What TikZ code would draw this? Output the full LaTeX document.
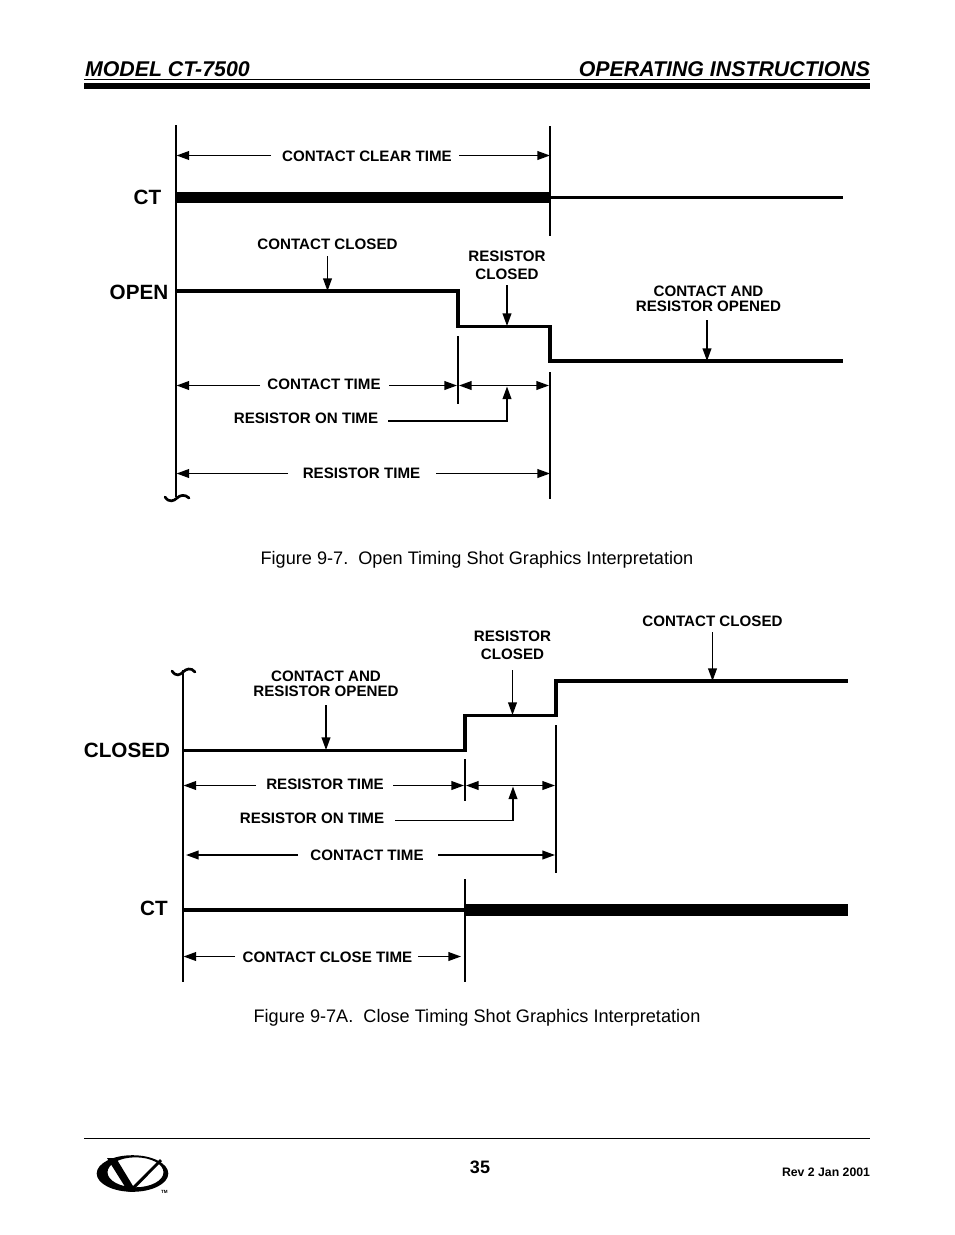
\documentclass[tikz,border=0pt]{standalone}
\usepackage{fontspec}
\setmainfont{Liberation Sans}
\usetikzlibrary{arrows.meta}
\tikzset{
  every node/.style={inner sep=0pt,outer sep=0pt,text=black},
  lbl/.style={font=\bfseries\fontsize{11.35}{12.4}\selectfont,align=center,inner xsep=8pt,inner ysep=3pt},
  big/.style={font=\bfseries\fontsize{15.5}{17}\selectfont},
  figcap/.style={font=\fontsize{13.6}{16}\selectfont},
  head/.style={font=\bfseries\itshape\fontsize{16}{18}\selectfont,anchor=base},
  axisline/.style={line width=1.8pt},
  sigline/.style={line width=2.6pt,miter limit=10},
  boldsig/.style={line width=8.6pt},
  dim/.style={line width=1.1pt,-{Triangle[length=9.5pt,width=6.6pt]}},
  dimboth/.style={line width=1.1pt,{Triangle[length=9.5pt,width=6.6pt]}-{Triangle[length=9.5pt,width=6.6pt]}},
  wig/.style={line width=2pt,line cap=round},
}
\begin{document}
\begin{tikzpicture}[x=0.75pt,y=-0.75pt]
\useasboundingbox (0,0) rectangle (954,1235);
% header
\node[head,anchor=base west] (hl) at (85,76) {MODEL CT-7500};
\node[head,anchor=base east] (hr) at (870,76) {OPERATING INSTRUCTIONS};
\coordinate (h1) at (84,79.5); \coordinate (h2) at (870,79.5);
\coordinate (h3) at (84,86); \coordinate (h4) at (870,86);
\draw[line width=0.7pt] (h1) -- (h2);
\draw[line width=4.6pt] (h3) -- (h4);
% ---------- Figure 9-7
\coordinate (A0) at (176,125); \coordinate (A1) at (176,497);
\coordinate (B0) at (550,126); \coordinate (B1) at (550,236);
\coordinate (C0) at (550,372); \coordinate (C1) at (550,499);
\coordinate (D0) at (458,336); \coordinate (D1) at (458,404);
\draw[axisline] (A0) -- (A1);
\draw[axisline] (B0) -- (B1);
\draw[axisline] (C0) -- (C1);
\draw[axisline] (D0) -- (D1);
\coordinate (w1) at (165,497); \coordinate (w2) at (189,498);
\draw[wig] (w1) .. controls (169,503) and (174,501) .. (177,498) .. controls (180,495) and (185,494) .. (w2);
% CT row
\node[big] (ct1) at (147.5,197) {CT};
\coordinate (ct1a) at (176,197.5); \coordinate (ct1b) at (550,197.5); \coordinate (ct1c) at (843,197.5);
\draw[boldsig] (ct1a) -- (ct1b);
\draw[sigline] (ct1b) -- (ct1c);
% OPEN row
\node[big] (open) at (139,292) {OPEN};
\coordinate (o0) at (176,291); \coordinate (o1) at (458,291); \coordinate (o2) at (458,326.5);
\coordinate (o3) at (550,326.5); \coordinate (o4) at (550,361); \coordinate (o5) at (843,361);
\draw[sigline] (o0) -- (o1) -- (o2) -- (o3) -- (o4) -- (o5);
% top labels
\node[lbl] (cc1) at (327.5,244) {CONTACT CLOSED};
\coordinate (cc1s) at (327.5,256); \coordinate (cc1t) at (327.5,291);
\draw[dim] (cc1s) -- (cc1t);
\node[lbl] (rc1) at (507,265.5) {RESISTOR\\[0.7pt]CLOSED};
\coordinate (rc1s) at (507,285); \coordinate (rc1t) at (507,326);
\draw[dim] (rc1s) -- (rc1t);
\node[lbl] (cr1) at (708.5,299) {CONTACT AND\\[-1.1pt]RESISTOR OPENED};
\coordinate (cr1s) at (707,320); \coordinate (cr1t) at (707,361);
\draw[dim] (cr1s) -- (cr1t);
% dims
\node[lbl] (cct) at (367,156) {CONTACT CLEAR TIME};
\coordinate (cctl) at (176.5,155.5); \coordinate (cctr) at (550,155.5);
\coordinate (cctw) at (271,155.5); \coordinate (ccte) at (459,155.5);
\draw[dim] (cctw) -- (cctl);
\draw[dim] (ccte) -- (cctr);
\node[lbl] (ct1t) at (324,384.5) {CONTACT TIME};
\coordinate (ctl) at (176.5,385.5); \coordinate (ctr) at (457,385.5);
\coordinate (ct1w) at (260,385.5); \coordinate (ct1e) at (389,385.5);
\draw[dim] (ct1w) -- (ctl);
\draw[dim] (ct1e) -- (ctr);
\coordinate (rl1) at (459,385.5); \coordinate (rr1) at (549,385.5);
\draw[dimboth] (rl1) -- (rr1);
\node[lbl] (rot1) at (306,418) {RESISTOR ON TIME};
\coordinate (rot1a) at (388,421); \coordinate (rot1b) at (507,421); \coordinate (rot1c) at (507,386.5);
\draw[dim] (rot1a) -- (rot1b) -- (rot1c);
\node[lbl] (rt1) at (361.5,473) {RESISTOR TIME};
\coordinate (rt1l) at (176.5,473.5); \coordinate (rt1r) at (550,473.5);
\coordinate (rt1w) at (288,473.5); \coordinate (rt1e) at (436,473.5);
\draw[dim] (rt1w) -- (rt1l);
\draw[dim] (rt1e) -- (rt1r);
\node[figcap] (fig1) at (477,559.5) {Figure 9-7.\ \ Open Timing Shot Graphics Interpretation};
% ---------- Figure 9-7A
\coordinate (E0) at (183,670); \coordinate (E1) at (183,982);
\coordinate (F0) at (556,725); \coordinate (F1) at (556,873);
\coordinate (G0) at (465,759); \coordinate (G1) at (465,801);
\coordinate (H0) at (465,879); \coordinate (H1) at (465,982);
\draw[axisline] (E0) -- (E1);
\draw[axisline] (F0) -- (F1);
\draw[axisline] (G0) -- (G1);
\draw[axisline] (H0) -- (H1);
\coordinate (w3) at (172,671); \coordinate (w4) at (195,672);
\draw[wig] (w3) .. controls (176,677) and (180,675) .. (183,672) .. controls (186,669) and (191,667) .. (w4);
\node[big] (closed) at (127,750.5) {CLOSED};
\coordinate (p0) at (183,750.5); \coordinate (p1) at (465,750.5); \coordinate (p2) at (465,715.5);
\coordinate (p3) at (556,715.5); \coordinate (p4) at (556,681); \coordinate (p5) at (848,681);
\draw[sigline] (p0) -- (p1) -- (p2) -- (p3) -- (p4) -- (p5);
\node[lbl] (cc2) at (712.5,621) {CONTACT CLOSED};
\coordinate (cc2s) at (712.5,632); \coordinate (cc2t) at (712.5,681);
\draw[dim] (cc2s) -- (cc2t);
\node[lbl] (rc2) at (512.5,645.5) {RESISTOR\\[0.7pt]CLOSED};
\coordinate (rc2s) at (512.5,670); \coordinate (rc2t) at (512.5,715);
\draw[dim] (rc2s) -- (rc2t);
\node[lbl] (cr2) at (326,684) {CONTACT AND\\[-1.1pt]RESISTOR OPENED};
\coordinate (cr2s) at (326,705); \coordinate (cr2t) at (326,750);
\draw[dim] (cr2s) -- (cr2t);
\node[lbl] (rt2) at (325,784.5) {RESISTOR TIME};
\coordinate (rt2l) at (183.5,785.5); \coordinate (rt2r) at (464,785.5);
\coordinate (rt2w) at (256,785.5); \coordinate (rt2e) at (393,785.5);
\draw[dim] (rt2w) -- (rt2l);
\draw[dim] (rt2e) -- (rt2r);
\coordinate (rl2) at (466,785.5); \coordinate (rr2) at (555,785.5);
\draw[dimboth] (rl2) -- (rr2);
\node[lbl] (rot2) at (312,818.5) {RESISTOR ON TIME};
\coordinate (rot2a) at (395,820.5); \coordinate (rot2b) at (513,820.5); \coordinate (rot2c) at (513,786.5);
\draw[dim] (rot2a) -- (rot2b) -- (rot2c);
\node[lbl] (ct2t) at (367,855) {CONTACT TIME};
\coordinate (ct2l) at (186,855); \coordinate (ct2r) at (555,855);
\coordinate (ct2w) at (298,855); \coordinate (ct2e) at (438,855);
\draw[dim] (ct2w) -- (ct2l);
\draw[dim] (ct2e) -- (ct2r);
\node[big] (ct2) at (154,908) {CT};
\coordinate (ct2a) at (183,910); \coordinate (ct2b) at (465,910); \coordinate (ct2c) at (848,910);
\draw[sigline] (ct2a) -- (ct2b);
\draw[boldsig] (ct2b) -- (ct2c);
\node[lbl] (cct2) at (327.5,957) {CONTACT CLOSE TIME};
\coordinate (cct2l) at (183.5,956.5); \coordinate (cct2r) at (461,956.5);
\coordinate (cct2w) at (235,956.5); \coordinate (cct2e) at (418,956.5);
\draw[dim] (cct2w) -- (cct2l);
\draw[dim] (cct2e) -- (cct2r);
\node[figcap] (fig2) at (477,1017.5) {Figure 9-7A.\ \ Close Timing Shot Graphics Interpretation};
% ---------- footer
\coordinate (f1) at (84,1138.5); \coordinate (f2) at (870,1138.5);
\draw[line width=0.7pt] (f1) -- (f2);
\node[font=\bfseries\fontsize{13.5}{15}\selectfont] (pg) at (480,1167) {35};
\node[font=\bfseries\fontsize{9.2}{10}\selectfont,anchor=east] (rev) at (870,1172) {Rev 2 Jan 2001};
% logo
\fill[even odd rule] (132.5,1173.5) ellipse [x radius=35.8, y radius=18.3]
   (135.5,1172.3) ellipse [x radius=28, y radius=15];
\fill (107,1158) -- (116,1158) -- (133,1186) -- (160,1159) -- (162,1161) -- (132,1191.5) -- (128,1191.5) -- cycle;
\node[font=\bfseries\fontsize{3.4}{4}\selectfont] (tm) at (164.5,1191.5) {TM};
\end{tikzpicture}
\end{document}
